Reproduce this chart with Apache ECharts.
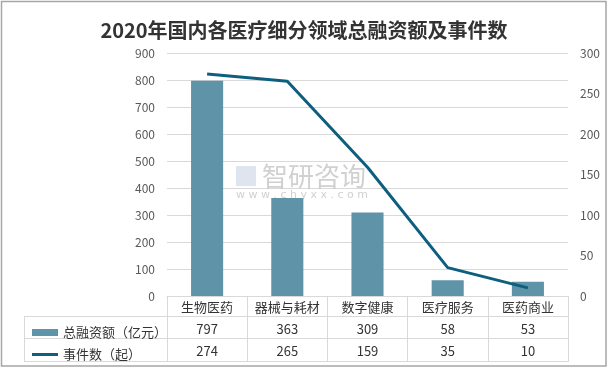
<!DOCTYPE html>
<html><head><meta charset="utf-8">
<script src="https://cdn.jsdelivr.net/npm/echarts@6/dist/echarts.min.js"></script>
<style>html,body{margin:0;padding:0;background:#fff}#c{width:608px;height:368px}</style>
</head><body><div id="c"></div>
<script>
const title = '2020年国内各医疗细分领域总融资额及事件数';
const categories = ['生物医药','器械与耗材','数字健康','医疗服务','医药商业'];
const amountName = '总融资额（亿元）';
const countName = '事件数（起）';
const amounts = [797, 363, 309, 58, 53];
const counts = [274, 265, 159, 35, 10];
const leftTicks = [0,100,200,300,400,500,600,700,800,900];
const rightTicks = [0,50,100,150,200,250,300];

const barColor = '#5E93A8';
const lineColor = '#0E5F7E';
const gridColor = '#D9D9D9';
const textColor = '#595959';
const font = '"Noto Sans CJK SC", "Microsoft YaHei", sans-serif';

const chart = echarts.init(document.getElementById('c'), null, {renderer:'canvas'});
const gL = 167, gR = 568, gT = 53, gB = 296;
const valAxisStyle = {color:textColor, fontSize:12, fontFamily:font};
const catBase = {
  type:'category', data:categories, gridIndex:0, position:'bottom',
  axisLine:{show:false}, axisTick:{show:false}, splitLine:{show:false}
};
chart.setOption({
  animation:false,
  title:{text:title, left:'center', top:15, textStyle:{fontSize:20, fontWeight:'bold', color:'#333', fontFamily:font}},
  legend:[
    {data:[amountName], left:27, top:321, itemWidth:26, itemHeight:7, icon:'rect', textStyle:{fontSize:13, color:'#333', fontFamily:font}},
    {data:[countName], left:27, top:343, itemWidth:26, itemHeight:3, icon:'rect', textStyle:{fontSize:13, color:'#333', fontFamily:font}}
  ],
  grid:{left:gL, right:608-gR, top:gT, bottom:368-gB, containLabel:false},
  xAxis:[
    Object.assign({}, catBase, {
      axisLine:{show:true, lineStyle:{color:gridColor, width:1}},
      axisTick:{show:true, length:66, lineStyle:{color:gridColor}},
      axisLabel:{color:'#333', fontSize:13, margin:5, fontFamily:font, interval:0}
    }),
    Object.assign({}, catBase, {
      data: amounts.map(String), offset:21,
      axisLabel:{color:'#333', fontSize:13, margin:6, fontFamily:font, interval:0}
    }),
    Object.assign({}, catBase, {
      data: counts.map(String), offset:43,
      axisLabel:{color:'#333', fontSize:13, margin:6, fontFamily:font, interval:0}
    })
  ],
  yAxis:[
    {type:'value', min:0, max:900, interval:100, position:'left',
     axisLine:{show:false}, axisTick:{show:false},
     splitLine:{lineStyle:{color:gridColor}},
     axisLabel:Object.assign({margin:12}, valAxisStyle)},
    {type:'value', min:0, max:300, interval:50, position:'right',
     axisLine:{show:false}, axisTick:{show:false}, splitLine:{show:false},
     axisLabel:Object.assign({margin:12}, valAxisStyle)}
  ],
  series:[
    {name:amountName, type:'bar', data:amounts, barWidth:'40%', xAxisIndex:0, yAxisIndex:0,
     itemStyle:{color:barColor}},
    {name:countName, type:'line', data:counts, xAxisIndex:0, yAxisIndex:1,
     symbol:'none', lineStyle:{color:lineColor, width:3}, itemStyle:{color:lineColor}}
  ],
  graphic:[
    {type:'rect', shape:{x:1.5, y:1.5, width:604.5, height:364.5}, style:{fill:'none', stroke:'#A6A6A6', lineWidth:1.5}, silent:true, z:-1},
    {type:'line', shape:{x1:24, y1:316.5, x2:gR, y2:316.5}, style:{stroke:gridColor, lineWidth:1}, silent:true},
    {type:'line', shape:{x1:24, y1:338.5, x2:gR, y2:338.5}, style:{stroke:gridColor, lineWidth:1}, silent:true},
    {type:'line', shape:{x1:24, y1:361.5, x2:gR, y2:361.5}, style:{stroke:gridColor, lineWidth:1}, silent:true},
    {type:'line', shape:{x1:24.5, y1:316, x2:24.5, y2:362}, style:{stroke:gridColor, lineWidth:1}, silent:true},
    {type:'text', left:262, top:163, style:{text:'智研咨询', fontSize:26, fill:'rgba(150,150,150,0.45)', fontFamily:font}, silent:true, z:10},
    {type:'text', left:236, top:190, style:{text:'w w w . c h y x x . c o m', fontSize:11, fill:'rgba(150,150,150,0.45)', fontFamily:'"DejaVu Sans", sans-serif'}, silent:true, z:10},
    {type:'rect', shape:{x:236, y:166, width:20, height:20}, style:{fill:'rgba(160,180,205,0.35)'}, silent:true, z:10}
  ]
});
</script></body></html>
